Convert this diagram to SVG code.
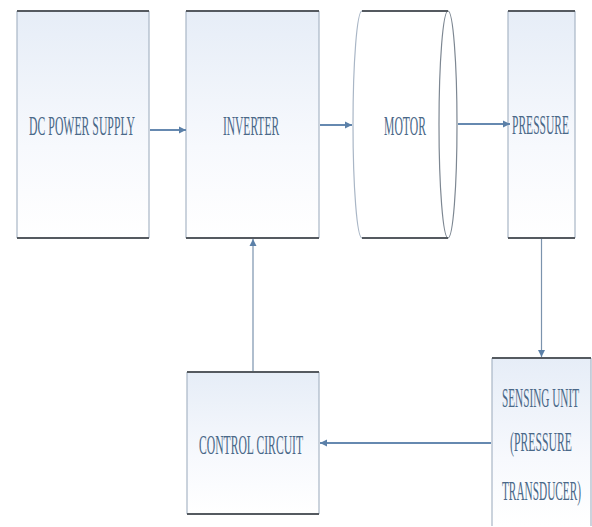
<svg xmlns="http://www.w3.org/2000/svg" width="592" height="527" viewBox="0 0 592 527">
<defs>
<linearGradient id="fill" x1="0" y1="0" x2="0" y2="1">
<stop offset="0" stop-color="#e6edf7"/>
<stop offset="0.6" stop-color="#f7f9fd"/>
<stop offset="1" stop-color="#ffffff"/>
</linearGradient>
<marker id="ah" markerWidth="8" markerHeight="8" refX="7" refY="4" orient="auto" markerUnits="userSpaceOnUse">
<path d="M0,0.5 L7,4 L0,7.5 Z" fill="#5b80a8"/>
</marker>
<style>
.box{fill:url(#fill);stroke:none}
.side{stroke:#a9b6c6;stroke-width:1.2;fill:none}
.edge{stroke:#555a60;stroke-width:2;fill:none}
.lbl{font-family:"Liberation Serif","Times New Roman",serif;font-size:28px;fill:#4a6888;text-anchor:middle}
.conn{stroke:#6689b0;stroke-width:2;fill:none;marker-end:url(#ah)}
.thin{stroke:#7b93ad;stroke-width:1.2;fill:none;marker-end:url(#ah)}
</style>
</defs>
<rect width="592" height="527" fill="#ffffff"/>

<g id="dc-power-supply">
<rect class="box" x="17" y="11" width="132" height="227"/>
<path class="side" d="M17,11 V238 M149,11 V238"/>
<path class="edge" d="M17,11 H149 M17,238 H149"/>
<text class="lbl" transform="translate(82,135) scale(0.41,1)" textLength="258" lengthAdjust="spacingAndGlyphs">DC POWER SUPPLY</text>
</g>

<g id="inverter">
<rect class="box" x="186" y="11" width="133" height="227"/>
<path class="side" d="M186,11 V238 M319,11 V238"/>
<path class="edge" d="M186,11 H319 M186,238 H319"/>
<text class="lbl" transform="translate(251,135) scale(0.41,1)" textLength="137" lengthAdjust="spacingAndGlyphs">INVERTER</text>
</g>

<g id="motor">
<path d="M362,11 H448 V238 H362 A9,113.5 0 0 1 362,11 Z" fill="#ffffff" stroke="none"/>
<path class="side" d="M362,11 A9,113.5 0 0 0 362,238" stroke="#7d8792"/>
<ellipse cx="448" cy="124.5" rx="9" ry="113.5" fill="none" stroke="#7d8792" stroke-width="1.2"/>
<path class="edge" d="M362,11 H448 M362,238 H448"/>
<text class="lbl" transform="translate(405,135) scale(0.41,1)" textLength="102" lengthAdjust="spacingAndGlyphs">MOTOR</text>
</g>

<g id="pressure">
<rect class="box" x="508" y="11" width="67" height="227"/>
<path class="side" d="M508,11 V238 M575,11 V238"/>
<path class="edge" d="M508,11 H575 M508,238 H575"/>
<text class="lbl" transform="translate(540.5,134) scale(0.41,1)" textLength="139" lengthAdjust="spacingAndGlyphs">PRESSURE</text>
</g>

<g id="control-circuit">
<rect class="box" x="187" y="372" width="132" height="142"/>
<path class="side" d="M187,372 V514 M319,372 V514"/>
<path class="edge" d="M187,372 H319 M187,514 H319"/>
<text class="lbl" transform="translate(251,454) scale(0.41,1)" textLength="254" lengthAdjust="spacingAndGlyphs">CONTROL CIRCUIT</text>
</g>

<g id="sensing-unit">
<rect class="box" x="492" y="358" width="99" height="168"/>
<path class="side" d="M492,358 V526 M591,358 V526"/>
<path class="edge" d="M492,358 H591"/>
<text class="lbl" transform="translate(540.5,407) scale(0.41,1)" textLength="188" lengthAdjust="spacingAndGlyphs">SENSING UNIT</text>
<text class="lbl" transform="translate(541,451) scale(0.41,1)" textLength="151" lengthAdjust="spacingAndGlyphs">(PRESSURE</text>
<text class="lbl" transform="translate(541.5,500) scale(0.41,1)" textLength="193" lengthAdjust="spacingAndGlyphs">TRANSDUCER)</text>
</g>

<g id="connectors">
<line class="conn" x1="150" y1="130" x2="186" y2="130"/>
<line class="conn" x1="320" y1="125" x2="352" y2="125"/>
<line class="conn" x1="458" y1="124" x2="510" y2="124"/>
<line class="thin" x1="541.5" y1="239" x2="541.5" y2="357"/>
<line class="conn" x1="491" y1="443" x2="320" y2="443"/>
<line class="thin" x1="253" y1="371" x2="253" y2="239"/>
</g>
</svg>
